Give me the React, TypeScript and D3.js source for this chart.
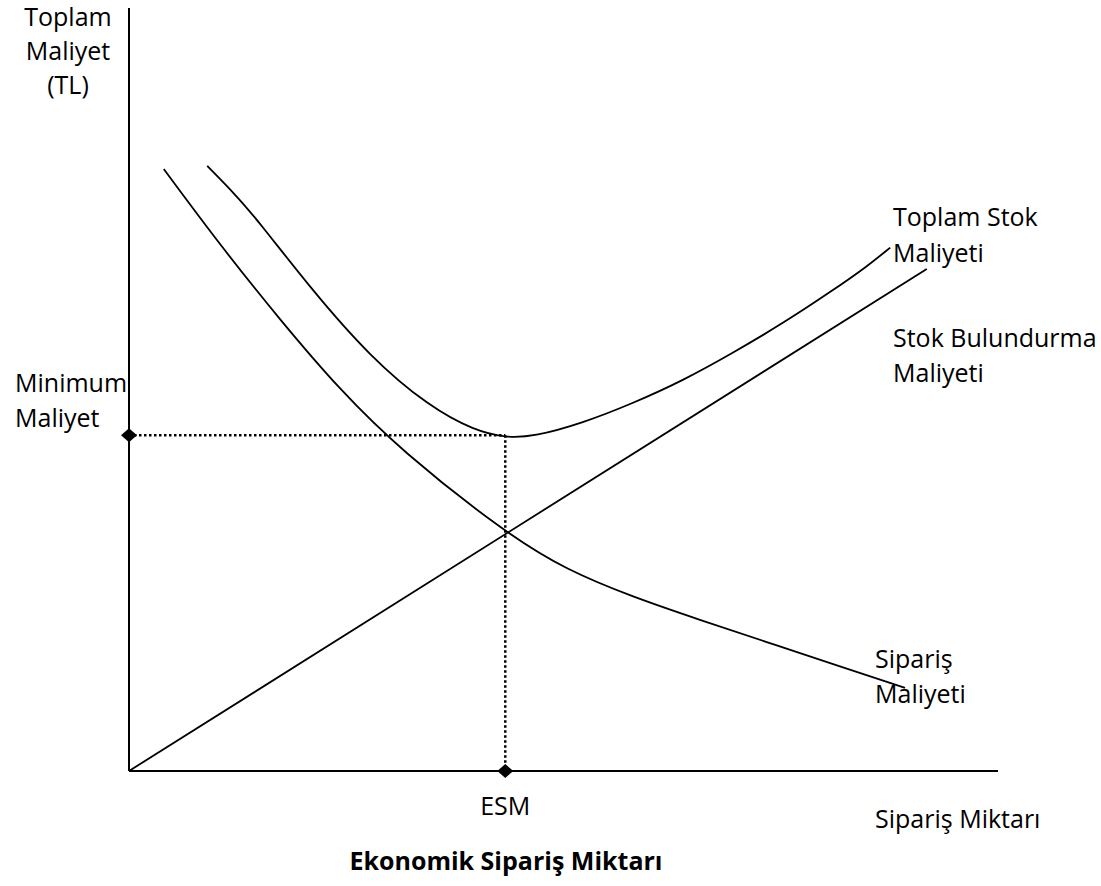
import React from "react";
import * as d3 from "d3";

// Data (arbitrary cost units, x: order quantity 0..100, y: cost 0..100)
const holdingCost: [number, number][] = [
  [0, 0],
  [91.8, 65.8],
];
const orderingCost: [number, number][] = [
  [4.0, 78.9], [10.5, 68.9], [17.4, 59.1], [24.3, 49.9], [31.2, 42.1], [43.3, 31.2],
  [50.4, 26.3], [58.0, 22.8], [65.7, 19.8], [73.4, 16.9], [81.0, 14.0], [89.3, 10.9],
];
const totalCost: [number, number][] = [
  [9.0, 79.3], [12.2, 75.6], [14.8, 72.2], [20.8, 63.4], [27.7, 54.3], [34.6, 47.7], [39.8, 44.6],
  [43.3, 43.7], [46.5, 43.8], [52.2, 45.6], [58.0, 48.2], [63.8, 51.2], [69.5, 54.8],
  [75.3, 58.7], [81.0, 63.0], [84.9, 66.1], [87.6, 68.6],
];
const esmX = 43.3;
const minCostY = 44.0;

const axisTitleLines = ["Toplam", "Maliyet", "(TL)"];
const minLabelLines = ["Minimum", "Maliyet"];
const totalLabelLines = ["Toplam Stok", "Maliyeti"];
const holdingLabelLines = ["Stok Bulundurma", "Maliyeti"];
const orderLabelLines = ["Sipariş", "Maliyeti"];
const esmLabel = "ESM";
const xAxisTitle = "Sipariş Miktarı";
const chartTitle = "Ekonomik Sipariş Miktarı";

const W = 1101;
const H = 886;
const FONT = "'Open Sans', sans-serif";
const FS = 25;

export default function App() {
  const x = d3.scaleLinear().domain([0, 100]).range([129, 998]);
  const y = d3.scaleLinear().domain([0, 100]).range([771, 8]);
  const line = d3
    .line<[number, number]>()
    .x((d) => x(d[0]))
    .y((d) => y(d[1]))
    .curve(d3.curveBasis);
  const straight = d3
    .line<[number, number]>()
    .x((d) => x(d[0]))
    .y((d) => y(d[1]));

  const diamond = (cx: number, cy: number) =>
    `M${cx - 8},${cy} L${cx},${cy - 7} L${cx + 8},${cy} L${cx},${cy + 7} Z`;

  const lineH = 35;
  const textProps = { fontFamily: FONT, fontSize: FS, fill: "#000" };

  return (
    <svg width={W} height={H} style={{ position: "absolute", left: 0, top: 0, background: "#fff" }}>
      {/* axes */}
      <line x1={x(0)} y1={y(100)} x2={x(0)} y2={y(0)} stroke="#000" strokeWidth={2} />
      <line x1={x(0)} y1={y(0)} x2={x(100)} y2={y(0)} stroke="#000" strokeWidth={2} />

      {/* dotted guides */}
      <line x1={x(0)} y1={y(minCostY)} x2={x(esmX)} y2={y(minCostY)} stroke="#000" strokeWidth={2.5} strokeDasharray="2.5,2.5" />
      <line x1={x(esmX)} y1={y(minCostY)} x2={x(esmX)} y2={y(0)} stroke="#000" strokeWidth={2.5} strokeDasharray="2.5,2.5" />

      {/* curves */}
      <path d={straight(holdingCost) || ""} fill="none" stroke="#000" strokeWidth={1.8} />
      <path d={line(orderingCost) || ""} fill="none" stroke="#000" strokeWidth={1.8} />
      <path d={line(totalCost) || ""} fill="none" stroke="#000" strokeWidth={1.8} />

      {/* diamonds */}
      <path d={diamond(x(0), y(minCostY))} fill="#000" />
      <path d={diamond(x(esmX), y(0))} fill="#000" />

      {/* labels */}
      {axisTitleLines.map((t, i) => (
        <text key={t} x={68} y={26 + i * 34} textAnchor="middle" {...textProps}>{t}</text>
      ))}
      {minLabelLines.map((t, i) => (
        <text key={t} x={15} y={392 + i * lineH} {...textProps}>{t}</text>
      ))}
      {totalLabelLines.map((t, i) => (
        <text key={t} x={893} y={226 + i * 36} {...textProps}>{t}</text>
      ))}
      {holdingLabelLines.map((t, i) => (
        <text key={t} x={893} y={347 + i * lineH} {...textProps}>{t}</text>
      ))}
      {orderLabelLines.map((t, i) => (
        <text key={t} x={875} y={668 + i * lineH} {...textProps}>{t}</text>
      ))}
      <text x={x(esmX)} y={815} textAnchor="middle" {...textProps}>{esmLabel}</text>
      <text x={875} y={828} {...textProps}>{xAxisTitle}</text>
      <text x={506} y={870} textAnchor="middle" {...textProps} fontWeight="bold">{chartTitle}</text>
    </svg>
  );
}
